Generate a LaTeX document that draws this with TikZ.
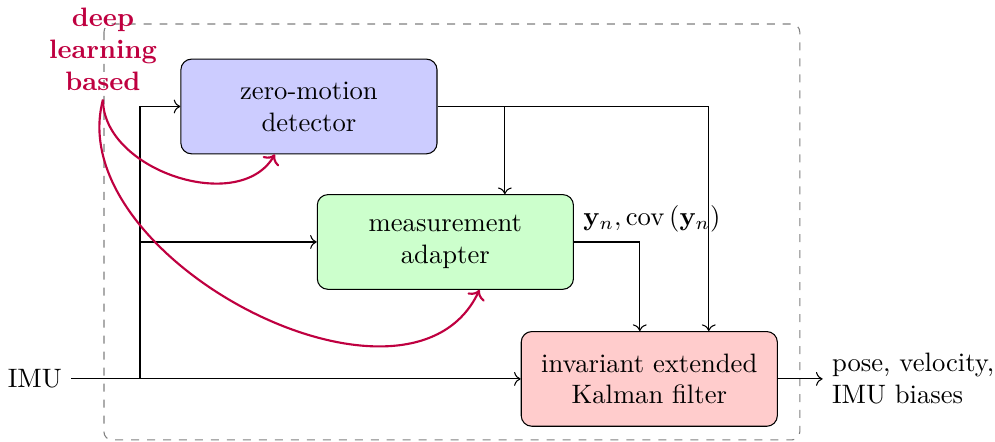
\documentclass[tikz,border=0pt]{standalone}
\usepackage{amsmath}
\usepackage{tikz}
\usetikzlibrary{arrows.meta, positioning, calc}
\tikzset{
  procbox/.style={
    draw, rounded corners=4pt, align=center,
    minimum width=3.38cm, minimum height=1.25cm
  },
  flowarrow/.style={->},
  learnarrow/.style={->, thick, color=purple},
  learnlabel/.style={
    font=\bfseries, text=purple, align=center
  },
}
\begin{document}
\begin{tikzpicture}
  \useasboundingbox (0,0) rectangle (13.13,-5.83);

  % ── Dashed frame ───────────────────────────────────────────────
  \draw[dashed, gray, rounded corners=3pt]
    (1.372,-0.317) rectangle (10.554,-5.805);

  % ── Blocks ─────────────────────────────────────────────────────
  \node[procbox, fill=blue!20] (det) at (4.077,-1.405)
    {zero-motion\\detector};
  \node[procbox, fill=green!20] (adapt) at (5.877,-3.193)
    {measurement\\adapter};
  \node[procbox, fill=red!20] (iekf) at (8.568,-5.0)
    {invariant extended\\Kalman filter};

  % Input / output
  \node (imu) at (0.46,-5.0) {IMU};
  \node[align=left, right=0.59cm of iekf] (out)
    {pose, velocity,\\IMU biases};

  % ── IMU distribution ───────────────────────────────────────────
  \coordinate (imusplit) at (1.847,-5.0);
  \draw[flowarrow] (imu.east) -- (iekf.west);
  \draw[flowarrow] (imusplit) |- (det.west);
  \draw[flowarrow] (imusplit |- adapt.west) -- (adapt.west);

  % ── Detector output ────────────────────────────────────────────
  \draw[flowarrow] (det.east) -| ([xshift=0.785cm]iekf.north);
  \coordinate (detsplit) at ([xshift=0.785cm]adapt.north |- det.east);
  \draw[flowarrow] (detsplit) -- ([xshift=0.785cm]adapt.north);

  % ── Adapter output ─────────────────────────────────────────────
  \draw[flowarrow] (adapt.east)
    node[above right] {$\mathbf{y}_n, \operatorname{cov}\left(\mathbf{y}_n\right)$}
    -| ([xshift=-0.125cm]iekf.north);

  % ── Filter output ──────────────────────────────────────────────
  \draw[flowarrow] (iekf.east) -- (out.west);

  % ── Learned components ─────────────────────────────────────────
  \node[learnlabel] (learn) at (1.359,-0.646) {deep\\learning\\based};
  \draw[learnarrow] (learn.south) to[out=-90, in=-120]
    ([xshift=-0.45cm]det.south);
  \draw[learnarrow] (learn.south) to[out=-105, in=-115]
    ([xshift=0.45cm]adapt.south);
\end{tikzpicture}
\end{document}
